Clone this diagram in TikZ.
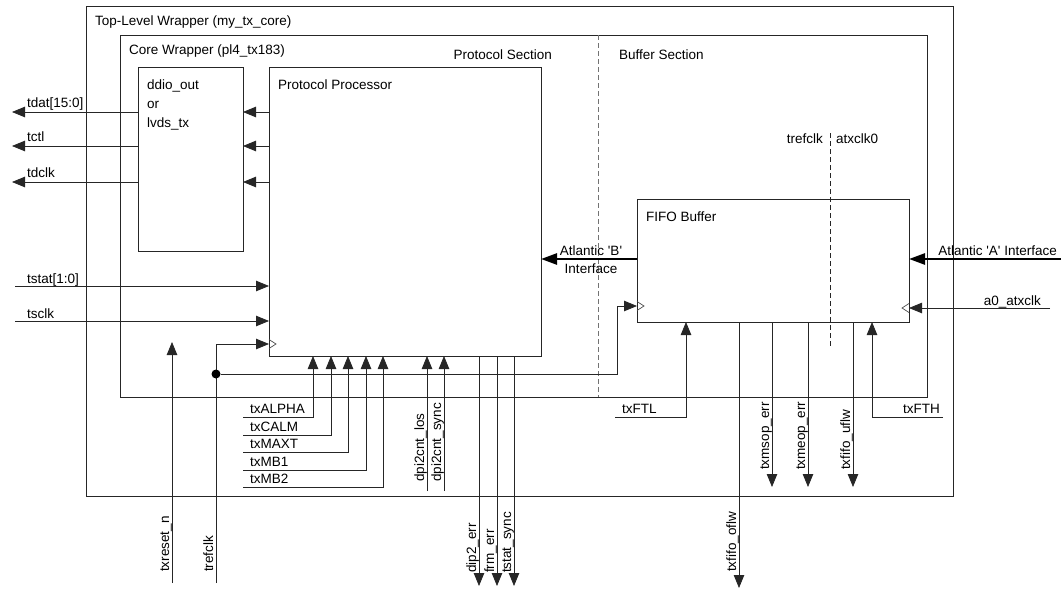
\documentclass[tikz,border=0pt]{standalone}
\usepackage{fontspec}
\setmainfont{Liberation Sans}
\usetikzlibrary{arrows.meta,positioning,calc}

\begin{document}
\begin{tikzpicture}[x=1pt,y=-1pt,
  blk/.style={draw=black!85,line width=0.8pt,rectangle,inner sep=0pt,outer sep=0pt,anchor=north west},
  lbl/.style={font={\fontsize{13.5}{16}\selectfont},inner sep=0pt,anchor=base west},
  vlbl/.style={lbl,rotate=90},
  sig/.style={draw=black!85,line width=0.8pt,-{Triangle[length=13pt,width=10.5pt]}},
  bus/.style={draw=black,line width=2.6pt,-{Triangle[length=16pt,width=11pt]}},
  sect/.style={draw=black!55,line width=0.8pt,dash pattern=on 5pt off 3pt},
  clk/.style={draw=black!70,line width=0.7pt},
  dot/.style={circle,fill=black,inner sep=0pt,minimum size=9pt}
]
  \useasboundingbox (0,0) rectangle (1061,589);

  % Wrappers and blocks
  \node[blk,minimum width=867pt,minimum height=490pt] (top) at (86,6) {};
  \node[blk,minimum width=807pt,minimum height=362pt] (core) at (120,35) {};
  \node[blk,minimum width=105pt,minimum height=184pt] (ddio) at (138,67) {};
  \node[blk,minimum width=272pt,minimum height=289pt] (pp) at (269,67) {};
  \node[blk,minimum width=272pt,minimum height=123pt] (fifo) at (637,199) {};

  \node[lbl] (toptitle) at (95,25) {Top-Level Wrapper (my\_tx\_core)};
  \node[lbl] (coretitle) at (129,54) {Core Wrapper (pl4\_tx183)};
  \node[lbl] (pptitle) at (278,89) {Protocol Processor};
  \node[lbl] (fifotitle) at (646,221) {FIFO Buffer};
  \foreach \y/\nm/\t in {89/a/ddio\_out, 108/b/or, 127/c/lvds\_tx}
    \node[lbl] (ddio-\nm) at (147,\y) {\t};

  % Section split and clock domains
  \node[lbl,anchor=base east] (protsec) at (552,59) {Protocol Section};
  \node[lbl] (bufsec) at (619,59) {Buffer Section};
  \draw[sect] (core.north -| 598,0) -- (core.south -| 598,0);
  \coordinate (cd-top) at (830,133);
  \coordinate (cd-bot) at (830,347);
  \draw[sect,draw=black!85] (cd-top) -- (cd-bot);
  \node[lbl,anchor=base east] (cd-ref) at (823,143) {trefclk};
  \node[lbl] (cd-atx) at (836,143) {atxclk0};

  % Line side outputs
  \foreach \y/\nm/\lbl in {112/tdat/tdat[15:0], 146/tctl/tctl, 182/tdclk/tdclk} {
    \coordinate (\nm-out) at (12,\y);
    \draw[sig] (ddio.west |- \nm-out) -- (\nm-out);
    \draw[sig] (pp.west |- \nm-out) -- (ddio.east |- \nm-out);
    \node[lbl] (\nm-lbl) at ([shift={(15,-5)}]\nm-out) {\lbl};
  }

  % Status inputs
  \foreach \y/\nm/\lbl in {286/tstat/tstat[1:0], 321/tsclk/tsclk} {
    \coordinate (\nm-in) at (15,\y);
    \draw[sig] (\nm-in) -- (pp.west |- \nm-in);
    \node[lbl] (\nm-lbl) at ([shift={(12,-3)}]\nm-in) {\lbl};
  }

  % Reference clock and reset
  \coordinate (pp-clk) at ([yshift=12pt]pp.south west);
  \coordinate (fifo-clk) at ([yshift=16pt]fifo.south west);
  \coordinate (a0-clk) at ([yshift=14pt]fifo.south east);
  \coordinate (ref-in) at (216,583);
  \draw[sig] (ref-in) |- (pp-clk);
  \node[vlbl] (ref-lbl) at ([shift={(-3,-11)}]ref-in) {trefclk};
  \node[dot] (tap) at (ref-in |- 0,374) {};
  \draw[sig] (tap) -| ([xshift=-20pt]fifo-clk) -- (fifo-clk);
  \draw[clk] ([yshift=4.5pt]pp-clk) -- ++(7,4.5) -- ++(-7,4.5);
  \draw[clk] ([yshift=4.5pt]fifo-clk) -- ++(7,4.5) -- ++(-7,4.5);
  \draw[clk] ([yshift=4.5pt]a0-clk) -- ++(-7,4.5) -- ++(7,4.5);
  \coordinate (rst-in) at (172,583);
  \coordinate (rst-end) at (172,342);
  \draw[sig] (rst-in) -- (rst-end);
  \node[vlbl] (rst-lbl) at ([shift={(-3,-11)}]rst-in) {txreset\_n};

  % Configuration inputs
  \foreach \x/\y/\nm in {313/417/txALPHA, 331/435/txCALM, 348/452/txMAXT, 366/470/txMB1, 383/487/txMB2} {
    \coordinate (\nm-in) at (243,\y);
    \draw[sig] (\nm-in) -| (pp.south -| \x,0);
    \node[lbl] (\nm-lbl) at ([shift={(7,-4)}]\nm-in) {\nm};
  }
  \foreach \x/\nm/\lbl in {427/los/dpi2cnt\_los, 444/sync/dpi2cnt\_sync} {
    \coordinate (dpi-\nm) at (\x,491);
    \draw[sig] (dpi-\nm) -- (pp.south -| dpi-\nm);
    \node[vlbl] (dpi-\nm-lbl) at ([shift={(-3,-9)}]dpi-\nm) {\lbl};
  }

  % Error outputs
  \foreach \x/\nm/\lbl in {479/dip/dip2\_err, 497/frm/frm\_err, 514/tss/tstat\_sync} {
    \coordinate (\nm-out) at (\x,586);
    \draw[sig] (pp.south -| \nm-out) -- (\nm-out);
    \node[vlbl] (\nm-lbl) at ([shift={(-3,-13)}]\nm-out) {\lbl};
  }

  % Atlantic interfaces
  \draw[bus] (fifo.west |- 0,259) -- (pp.east |- 0,259);
  \node[lbl,anchor=base] (atlb-top) at (591,255) {Atlantic \textquotesingle B\textquotesingle};
  \node[lbl,anchor=base] (atlb-bot) at (591,273) {Interface};
  \coordinate (atla-in) at (1061,259);
  \draw[bus] (atla-in) -- (fifo.east |- atla-in);
  \node[lbl,anchor=base east] (atla-lbl) at (1057,255) {Atlantic \textquotesingle A\textquotesingle{} Interface};
  \coordinate (a0-in) at (1050,308);
  \draw[sig] (a0-in) -- (a0-clk);
  \node[lbl,anchor=base east] (a0-lbl) at (1041,305) {a0\_atxclk};

  % FIFO thresholds and flags
  \coordinate (ftl-in) at (615,417);
  \draw[sig] (ftl-in) -| (fifo.south -| 686,0);
  \node[lbl] (ftl-lbl) at (622,413) {txFTL};
  \coordinate (fth-in) at (943,417);
  \draw[sig] (fth-in) -| (fifo.south -| 872,0);
  \node[lbl,anchor=base east] (fth-lbl) at (940,413) {txFTH};
  \coordinate (oflw-out) at (739,588);
  \draw[sig] (fifo.south -| oflw-out) -- (oflw-out);
  \node[vlbl] (oflw-lbl) at ([shift={(-3,-16)}]oflw-out) {txfifo\_oflw};
  \foreach \x/\nm/\lbl in {772/msop/txmsop\_err, 808/meop/txmeop\_err, 853/uflw/txfifo\_uflw} {
    \coordinate (\nm-out) at (\x,487);
    \draw[sig] (fifo.south -| \nm-out) -- (\nm-out);
    \node[vlbl] (\nm-lbl) at ([shift={(-3,-17)}]\nm-out) {\lbl};
  }
\end{tikzpicture}
\end{document}
